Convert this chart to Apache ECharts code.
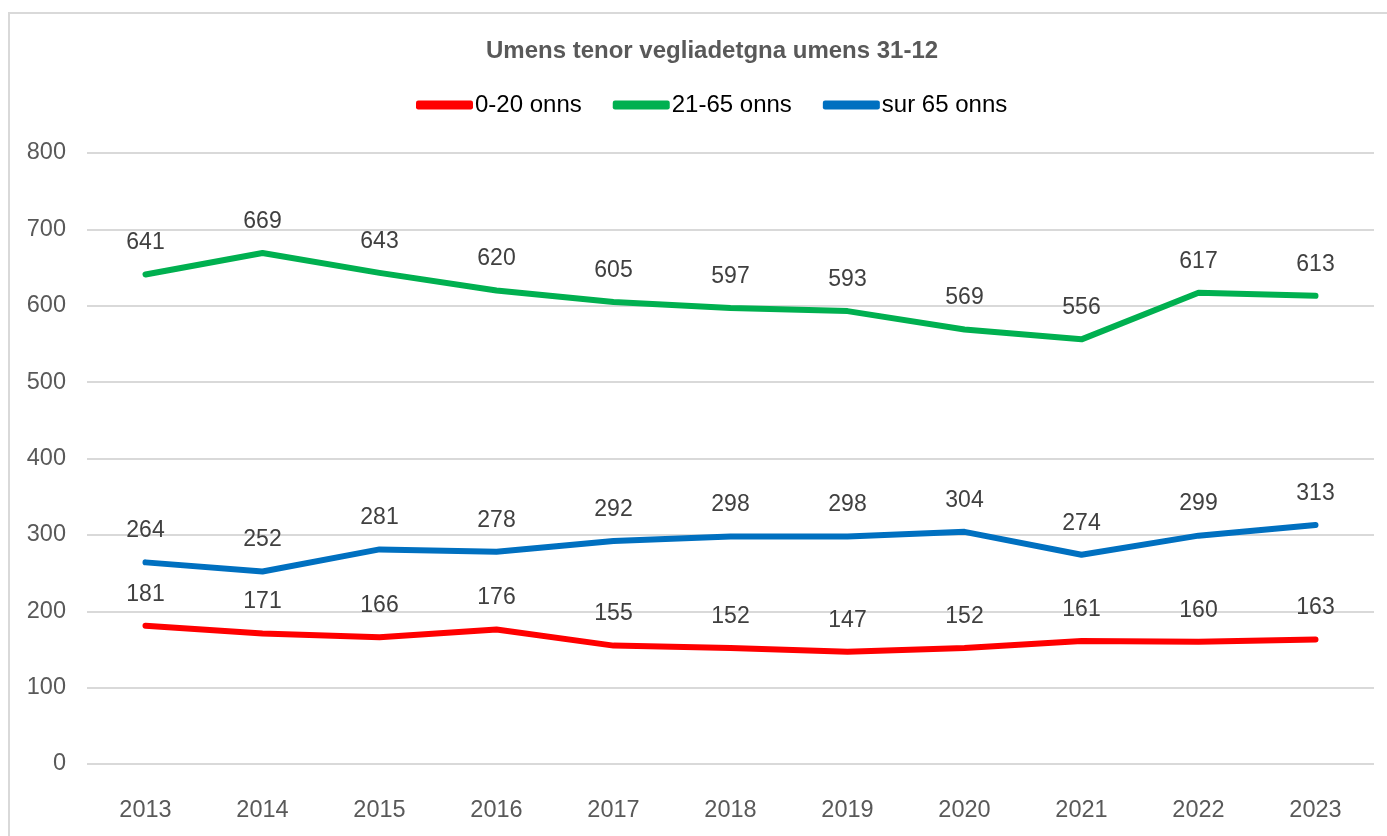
<!DOCTYPE html>
<html>
<head>
<meta charset="utf-8">
<script src="https://cdn.jsdelivr.net/npm/echarts@6/dist/echarts.min.js"></script>
<style>
  html, body { margin: 0; padding: 0; background: #fff; }
  #main { width: 1387px; height: 836px; }
</style>
</head>
<body>
<div id="main"></div>
<script>
// data
var years = ['2013', '2014', '2015', '2016', '2017', '2018', '2019', '2020', '2021', '2022', '2023'];
var young = [181, 171, 166, 176, 155, 152, 147, 152, 161, 160, 163];
var adults = [641, 669, 643, 620, 605, 597, 593, 569, 556, 617, 613];
var seniors = [264, 252, 281, 278, 292, 298, 298, 304, 274, 299, 313];
var seriesNames = ['0-20 onns', '21-65 onns', 'sur 65 onns'];
var colors = ['#FF0000', '#00B050', '#0070C0'];

var chart = echarts.init(document.getElementById('main'));

function lineSeries(name, color, data) {
  return {
    name: name,
    type: 'line',
    data: data,
    // tiny symbol in the line colour, hidden under the stroke, so labels still show
    symbol: 'circle',
    symbolSize: 4,
    showAllSymbol: true,
    lineStyle: { color: color, width: 6, cap: 'round', join: 'round' },
    itemStyle: { color: color, borderWidth: 0 },
    label: {
      show: true,
      position: 'top',
      distance: 18,
      color: '#404040',
      fontSize: 23,
      fontFamily: 'Liberation Sans, Arial'
    }
  };
}

chart.setOption({
  animation: false,
  textStyle: { fontFamily: 'Liberation Sans, Arial' },
  title: {
    text: 'Umens tenor vegliadetgna umens 31-12',
    left: 481,
    top: 34,
    textStyle: { color: '#595959', fontSize: 24, fontWeight: 'bold' }
  },
  legend: {
    top: 88,
    left: 411,
    itemWidth: 57,
    itemHeight: 9,
    itemGap: 31,
    icon: 'roundRect',
    textStyle: { color: '#000', fontSize: 24, padding: [0, 0, 0, -3] },
    data: seriesNames
  },
  graphic: [{
    type: 'rect',
    shape: { x: 9, y: 13, width: 1400, height: 900 },
    style: { fill: 'none', stroke: '#d9d9d9', lineWidth: 2 },
    silent: true
  }],
  grid: { left: 87, right: 13, top: 153, bottom: 72 },
  xAxis: {
    type: 'category',
    data: years,
    boundaryGap: true,
    axisLine: { show: false },
    axisTick: { show: false },
    axisLabel: { color: '#595959', fontSize: 23.5, margin: 35 }
  },
  yAxis: {
    type: 'value',
    min: 0,
    max: 800,
    interval: 100,
    axisLine: { show: false },
    axisTick: { show: false },
    axisLabel: { color: '#595959', fontSize: 23.5, margin: 21 },
    splitLine: { lineStyle: { color: '#d9d9d9', width: 2 } }
  },
  series: [
    lineSeries(seriesNames[0], colors[0], young),
    lineSeries(seriesNames[1], colors[1], adults),
    lineSeries(seriesNames[2], colors[2], seniors)
  ]
});
</script>
</body>
</html>
